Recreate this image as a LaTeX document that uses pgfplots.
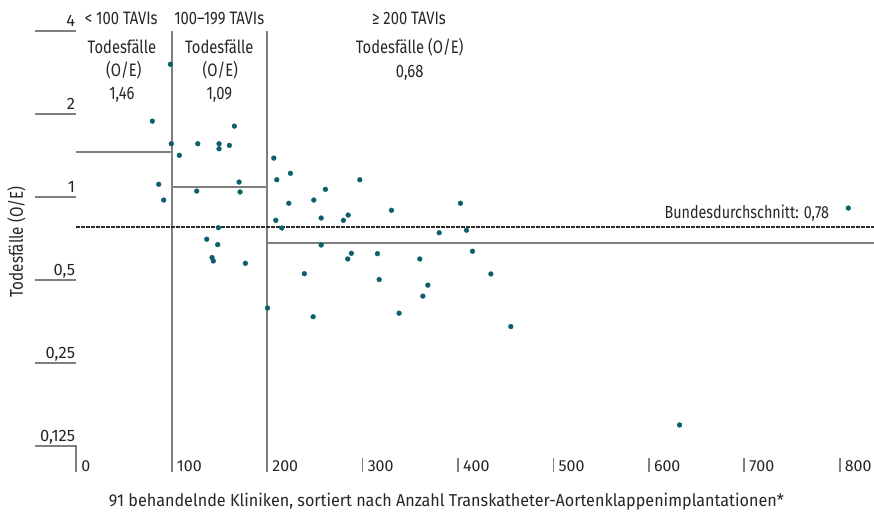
\documentclass[border=0pt]{standalone}
\usepackage{fontspec}
\setmainfont[FakeStretch=0.82]{Fira Sans}
\newfontfamily\widefont[FakeStretch=0.94]{Fira Sans}
\newfontfamily\tickfont[FakeStretch=1.0]{Fira Sans}
\usepackage{pgfplots}
\pgfplotsset{compat=1.18}
\definecolor{dotc}{HTML}{0E5F6E}
\definecolor{linec}{HTML}{7F7F7F}
\definecolor{dashc}{HTML}{2A2A2A}
\begin{document}
\begin{tikzpicture}
\useasboundingbox (-76.3pt,-66pt) rectangle (797.7pt,446pt);
\begin{axis}[
  scale only axis,
  width=797.7pt, height=415pt,
  xmin=0, xmax=836,
  ymode=log, log basis y=2,
  ymin=0.125, ymax=4,
  axis line style={draw=none},
  clip=false,
  xtick={0,100,...,800},
  xticklabels={0,100,200,300,400,500,600,700,800},
  ytick={0.125,0.25,0.5,1,2,4},
  yticklabels={{0,125},{0,25},{0,5},1,2,4},
  major tick length=0pt,
  tick style={draw=none},
  /pgf/number format/assume math mode=true,
  xticklabel style={anchor=base west, inner sep=0pt, xshift=5pt, yshift=-25.7pt, font=\tickfont\fontsize{16}{18}\selectfont, text=black!85},
  yticklabel style={anchor=base east, inner sep=0pt, xshift=-1pt, yshift=4.7pt, font=\tickfont\fontsize{16.5}{18}\selectfont, text=black!85},
  xlabel={91 behandelnde Kliniken, sortiert nach Anzahl Transkatheter-Aortenklappenimplantationen*},
  xlabel style={at={(axis description cs:0.464,0)}, anchor=base, yshift=-60.7pt, inner sep=0pt, font=\widefont\fontsize{17.2}{20}\selectfont, text=black!85},
  ylabel={Todesfälle (O/E)},
  ylabel style={at={(axis description cs:-0.075,0.492)}, anchor=center, inner sep=0pt, font=\fontsize{18.5}{20}\selectfont, text=black!85},
]
% y tick lines
\foreach \v in {0.125,0.25,0.5,1,2,4}{
  \edef\temp{\noexpand\draw[linec, line width=1.7pt] (axis cs:0,\v) -- ([xshift=-41.3pt]axis cs:0,\v);}
  \temp
}
% x tick lines
\draw[linec, line width=1.7pt] ([xshift=-0.85pt]axis cs:0,0.125) -- (axis cs:0,0.125) -- ([yshift=-25.7pt]axis cs:0,0.125);
\foreach \v in {300,400,500,600,700,800}{
  \edef\temp{\noexpand\draw[linec, line width=1.7pt] ([yshift=-12.3pt]axis cs:\v,0.125) -- ([yshift=-25.7pt]axis cs:\v,0.125);}
  \temp
}
% category separators
\draw[linec, line width=1.8pt] (axis cs:100,4) -- ([yshift=-25.7pt]axis cs:100,0.125);
\draw[linec, line width=1.8pt] (axis cs:200,4) -- ([yshift=-25.7pt]axis cs:200,0.125);
% group means
\addplot[linec, line width=1.8pt, no markers] coordinates {(0,1.46) (100,1.46)};
\addplot[linec, line width=1.8pt, no markers] coordinates {(100,1.09) (200,1.09)};
\addplot[linec, line width=1.8pt, no markers] coordinates {(200,0.68) (836,0.68)};
% national average
\addplot[dashc, line width=1.8pt, dash pattern=on 3.5pt off 1.5pt, no markers] coordinates {(0,0.78) (836,0.78)};
% clinics
\addplot[only marks, mark=*, mark size=2.4pt, draw=dotc, fill=dotc] coordinates {
(98.6,3.03) (79.7,1.885) (165.7,1.808) (99.6,1.560) (127.3,1.560) (149.6,1.560)
(149.6,1.496) (160.4,1.539) (108.0,1.416) (207.0,1.384) (224.4,1.219) (210.1,1.155)
(86.4,1.112) (170.6,1.133) (126.2,1.051) (171.6,1.043) (91.6,0.975) (222.7,0.949)
(209.1,0.823) (148.9,0.774) (215.4,0.772) (136.7,0.703) (148.2,0.672) (142.3,0.603)
(143.6,0.586) (177.2,0.575) (200.3,0.396) (261.1,1.066) (248.9,0.975) (297.1,1.155)
(256.6,0.839) (279.9,0.823) (284.9,0.860) (330.3,0.895) (402.6,0.949) (380.3,0.742)
(408.9,0.758) (256.6,0.670) (288.3,0.625) (284.5,0.596) (315.6,0.623) (360.0,0.596)
(415.2,0.636) (239.0,0.527) (317.4,0.502) (434.5,0.526) (368.4,0.479) (363.2,0.437)
(248.2,0.368) (338.3,0.379) (455.4,0.339) (809.1,0.912) (632.2,0.149)
};
\end{axis}
\begin{scope}[every node/.style={inner sep=0pt, text=black!85, font=\fontsize{18}{20}\selectfont}]
\node[anchor=base] at (45pt,421pt) {< 100 TAVIs};
\node[anchor=base] at (142.9pt,421pt) {100–199 TAVIs};
\node[anchor=base] at (332.7pt,421pt) {≥ 200 TAVIs};
\node[anchor=base] at (45.6pt,392.7pt) {Todesfälle};
\node[anchor=base] at (47.5pt,369.3pt) {(O/E)};
\node[anchor=base] at (45.6pt,346pt) {1,46};
\node[anchor=base] at (143pt,392.7pt) {Todesfälle};
\node[anchor=base] at (144pt,369.3pt) {(O/E)};
\node[anchor=base] at (143pt,346pt) {1,09};
\node[anchor=base] at (333.4pt,392.7pt) {Todesfälle (O/E)};
\node[anchor=base] at (333.4pt,368.7pt) {0,68};
\node[anchor=base east, font=\fontsize{17.5}{20}\selectfont] at (753pt,227.7pt) {Bundesdurchschnitt: 0,78};
\end{scope}
\end{tikzpicture}
\end{document}
